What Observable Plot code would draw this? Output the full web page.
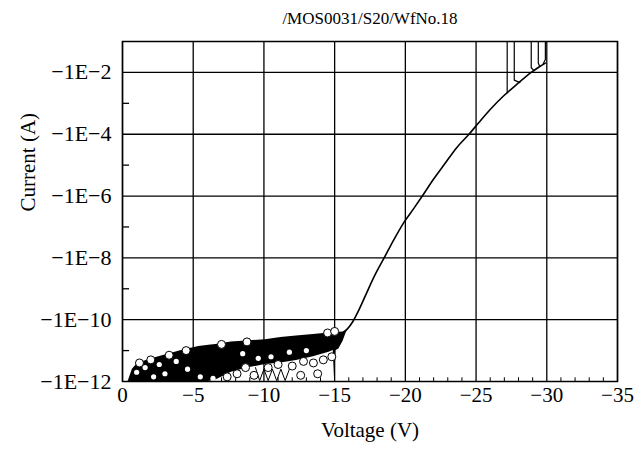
<!DOCTYPE html>
<html><head><meta charset="utf-8">
<script src="https://cdn.jsdelivr.net/npm/d3@7"></script>
<script src="https://cdn.jsdelivr.net/npm/@observablehq/plot@0.6"></script>
<style>
body{margin:0;background:#fff}
#chart svg{font-family:"Liberation Serif",serif;background:#fff}
</style>
</head><body><div id="chart"></div>
<script>
const title = "/MOS0031/S20/WfNo.18";
const xLabel = "Voltage (V)";
const yLabel = "Current (A)";
const xTicks = [0, -5, -10, -15, -20, -25, -30, -35];
const yTickExp = [-2, -4, -6, -8, -10, -12];
const yGridExp = [-2, -4, -6, -8, -10];
const yMinorExp = [-3, -5, -7, -9, -11];
const xMinor = [-1,-2,-3,-4,-6,-7,-8,-9,-11,-12,-13,-14,-16,-17,-18,-19,-21,-22,-23,-24,-26,-27,-28,-29,-31,-32,-33,-34];

// noisy leakage band (log10 |I|)
const bandV     = [-0.4, -0.7, -1.0, -1.3, -2.0, -3.2, -4.3, -5.4, -6.1, -6.6, -7.7, -9.0, -10.1, -11.2, -12.3, -13.5, -14.6, -14.9, -15.0, -15.1, -15.3, -15.6, -15.8, -16.0];
const bandUpper = [-12, -11.6, -11.45, -11.38, -11.27, -11.12, -10.98, -10.87, -10.83, -10.8, -10.72, -10.68, -10.65, -10.58, -10.53, -10.48, -10.43, -10.42, -10.42, -10.42, -10.41, -10.4, -10.34, -10.25];
const bandLower = [-12, -12, -12, -12, -12, -12, -12, -12, -12, -11.95, -11.7, -11.55, -11.45, -11.4, -11.32, -11.2, -11.05, -11.0, -12, -11.0, -10.95, -10.7, -10.45, -10.25];

// main rising curve
const curveV  = [-15.6, -15.9, -16.3, -16.7, -17.2, -17.8, -18.5, -19.2, -19.9, -20.6, -21.2, -22.0, -22.8, -23.6, -24.5, -25.2, -26.0, -26.9, -27.9, -28.9, -29.4, -29.9];
const curveLg = [-10.42, -10.3, -10.05, -9.7, -9.2, -8.6, -8.0, -7.4, -6.85, -6.4, -6.0, -5.45, -4.95, -4.45, -4.0, -3.62, -3.2, -2.78, -2.38, -2.0, -1.84, -1.7];

// compliance spikes near the top
const spikeId = ["a","a","b","b","b","c","c","c","d","d","d","e","e","e"];
const spikeV  = [-27.2, -27.2, -27.7, -27.7, -28.1, -28.9, -28.9, -29.1, -29.4, -29.4, -29.5, -29.9, -29.9, -29.75];
const spikeLg = [-1, -2.66, -1, -2.25, -2.33, -1, -1.85, -1.94, -1, -1.7, -1.8, -1, -1.58, -1.72];

// white holes inside the black band
const holeV  = [-1.0, -1.6, -2.2, -3.0, -2.6, -3.8, -5.5, -6.4, -8.5, -9.6, -10.5, -4.6, -11.8, -13.0];
const holeLg = [-11.7, -11.55, -11.85, -11.75, -11.45, -11.35, -11.85, -11.9, -11.1, -11.25, -11.2, -11.6, -11.05, -11.0];
// outlined white cells along edges / lower region
const cellV  = [-1.2, -2.0, -3.3, -4.5, -7.0, -8.8, -14.5, -15.0, -7.4, -8.1, -8.7, -9.3, -10.3, -11.0, -12.0, -12.8, -13.5, -14.2, -14.8, -13.8, -12.6];
const cellLg = [-11.4, -11.3, -11.15, -11.0, -10.8, -10.72, -10.43, -10.38, -11.85, -11.75, -11.55, -11.8, -11.55, -11.45, -11.5, -11.35, -11.4, -11.3, -11.2, -11.75, -11.8];
// zig-zag trace at the bottom
const zigV  = [-9.4, -9.7, -10.0, -10.3, -10.6, -10.9, -11.2, -11.5, -11.8];
const zigLg = [-11.55, -11.97, -11.6, -11.97, -11.6, -11.97, -11.6, -11.97, -11.6];

const P = lg => 10 ** lg;
const fmtY = n => "\u2212" + "1E" + "\u2212" + Math.abs(n);
const fmtX = d => d === 0 ? "0" : "\u2212" + Math.abs(d);
const FF = "Liberation Serif";

const chart = Plot.plot({
  width: 636, height: 450,
  marginLeft: 122, marginRight: 19, marginTop: 41, marginBottom: 69,
  style: {fontFamily: FF, color: "black"},
  x: {domain: [0, -35], axis: null},
  y: {type: "log", domain: [1e-12, 1e-1], axis: null},
  marks: [
    Plot.ruleX(xTicks, {stroke: "black", strokeWidth: 1.3}),
    Plot.ruleY(yGridExp.map(P), {stroke: "black", strokeWidth: 1.3}),
    Plot.ruleY(yMinorExp.map(P), {x1: 0, x2: -0.5, stroke: "black", strokeWidth: 1.3}),
    Plot.ruleX(xMinor, {y1: 1e-12, y2: P(-11.88), stroke: "black", strokeWidth: 1}),
    Plot.areaY(bandV.map((v, i) => ({v, lo: P(bandLower[i]), hi: P(bandUpper[i])})), {x: "v", y1: "lo", y2: "hi", fill: "black"}),
    Plot.line(zigV.map((v, i) => ({v, y: P(zigLg[i])})), {x: "v", y: "y", stroke: "black", strokeWidth: 1}),
    Plot.dot(cellV.map((v, i) => ({v, y: P(cellLg[i])})), {x: "v", y: "y", r: 4, fill: "white", stroke: "black", strokeWidth: 1}),
    Plot.dot(holeV.map((v, i) => ({v, y: P(holeLg[i])})), {x: "v", y: "y", r: 2.6, fill: "white"}),
    Plot.line(curveV.map((v, i) => ({v, y: P(curveLg[i])})), {x: "v", y: "y", stroke: "black", strokeWidth: 1.6, curve: "monotone-x"}),
    Plot.line(spikeV.map((v, i) => ({v, y: P(spikeLg[i]), id: spikeId[i]})), {x: "v", y: "y", z: "id", stroke: "black", strokeWidth: 1.2}),
    Plot.frame({stroke: "black", strokeWidth: 1.5}),
    Plot.text(xTicks, {x: d => d, text: fmtX, frameAnchor: "bottom", lineAnchor: "top", dy: 6, fontSize: 21, fontFamily: FF, fill: "black"}),
    Plot.text(yTickExp, {y: P, text: fmtY, frameAnchor: "left", textAnchor: "end", dx: -11, fontSize: 22, fontFamily: FF, fill: "black"}),
    Plot.text([xLabel], {frameAnchor: "bottom", dy: 55, fontSize: 21, fontFamily: FF}),
    Plot.text([yLabel], {frameAnchor: "left", dx: -94, rotate: -90, fontSize: 21, fontFamily: FF}),
    Plot.text([title], {frameAnchor: "top", dy: -30, fontSize: 17, fontFamily: FF})
  ]
});
document.getElementById("chart").appendChild(chart);
</script>
</body></html>
